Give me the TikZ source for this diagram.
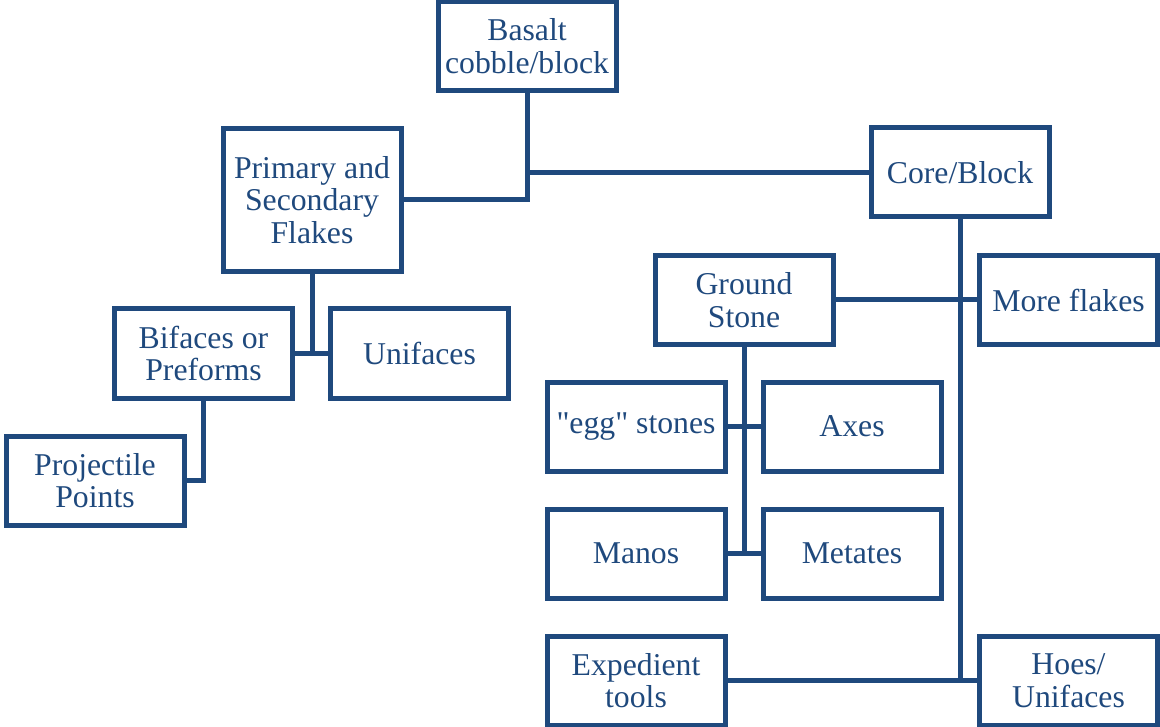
\documentclass[tikz,border=0pt]{standalone}
\usepackage{fontspec}
\setmainfont{Liberation Serif}[Ligatures=TeXOff]
\usepackage{tikz}
\usetikzlibrary{positioning}
\definecolor{stoneColor}{RGB}{31,73,125}

\begin{document}
\begin{tikzpicture}[x=0.75pt,y=-0.75pt]

          \tikzstyle{stoneNode} = [draw, stoneColor, text=stoneColor, line width=3.75pt, minimum width=133.5pt, minimum height=66.75pt, inner sep=0pt, align=center, font=\fontsize{23.8}{24.4}\selectfont];
          \tikzstyle{tallNode} = [stoneNode, minimum height=107pt];

          \tikzstyle{normalEdge} = [stoneColor, line width=3.75pt];

          \useasboundingbox (0,0) rectangle (1160,727);

          \node[stoneNode] (basalt) at (527,46) {Basalt\\cobble/block};
          \node[tallNode] (primary) at (312,200) {Primary and\\Secondary\\Flakes};
          \node[stoneNode] (core) at (960,172.5) {Core/Block};
          \node[stoneNode] (ground) at (744,300) {Ground\\Stone};
          \node[stoneNode] (more) at (1068.5,300) {More flakes};
          \node[stoneNode] (bifaces) at (203.5,353.5) {Bifaces or\\Preforms};
          \node[stoneNode] (unifaces) at (419.5,353.5) {Unifaces};
          \node[stoneNode] (projectile) at (95,480.5) {Projectile\\Points};
          \node[stoneNode] (egg) at (636,426.5) {"egg" stones};
          \node[stoneNode] (axes) at (852,426.5) {Axes};
          \node[stoneNode] (manos) at (636,553.5) {Manos};
          \node[stoneNode] (metates) at (852,553.5) {Metates};
          \node[stoneNode] (expedient) at (636,680.5) {Expedient\\tools};
          \node[stoneNode] (hoes) at (1068.5,680.5) {Hoes/\\Unifaces};

          \draw[normalEdge] (basalt.south) |- (primary.east);
          \draw[normalEdge] (core.west) -- (core.west -| basalt.south);
          \draw[normalEdge] (primary.south) |- (bifaces.east);
          \draw[normalEdge] (bifaces.east) -- (unifaces.west);
          \draw[normalEdge] (bifaces.south) |- (projectile.east);
          \draw[normalEdge] (core.south) |- (expedient.east);
          \draw[normalEdge] (hoes.west) -- (hoes.west -| core.south);
          \draw[normalEdge] (ground.east) -- (more.west);
          \draw[normalEdge] (ground.south) -- (ground.south |- manos.east);
          \draw[normalEdge] (egg.east) -- (axes.west);
          \draw[normalEdge] (manos.east) -- (metates.west);
        \end{tikzpicture}
\end{document}
